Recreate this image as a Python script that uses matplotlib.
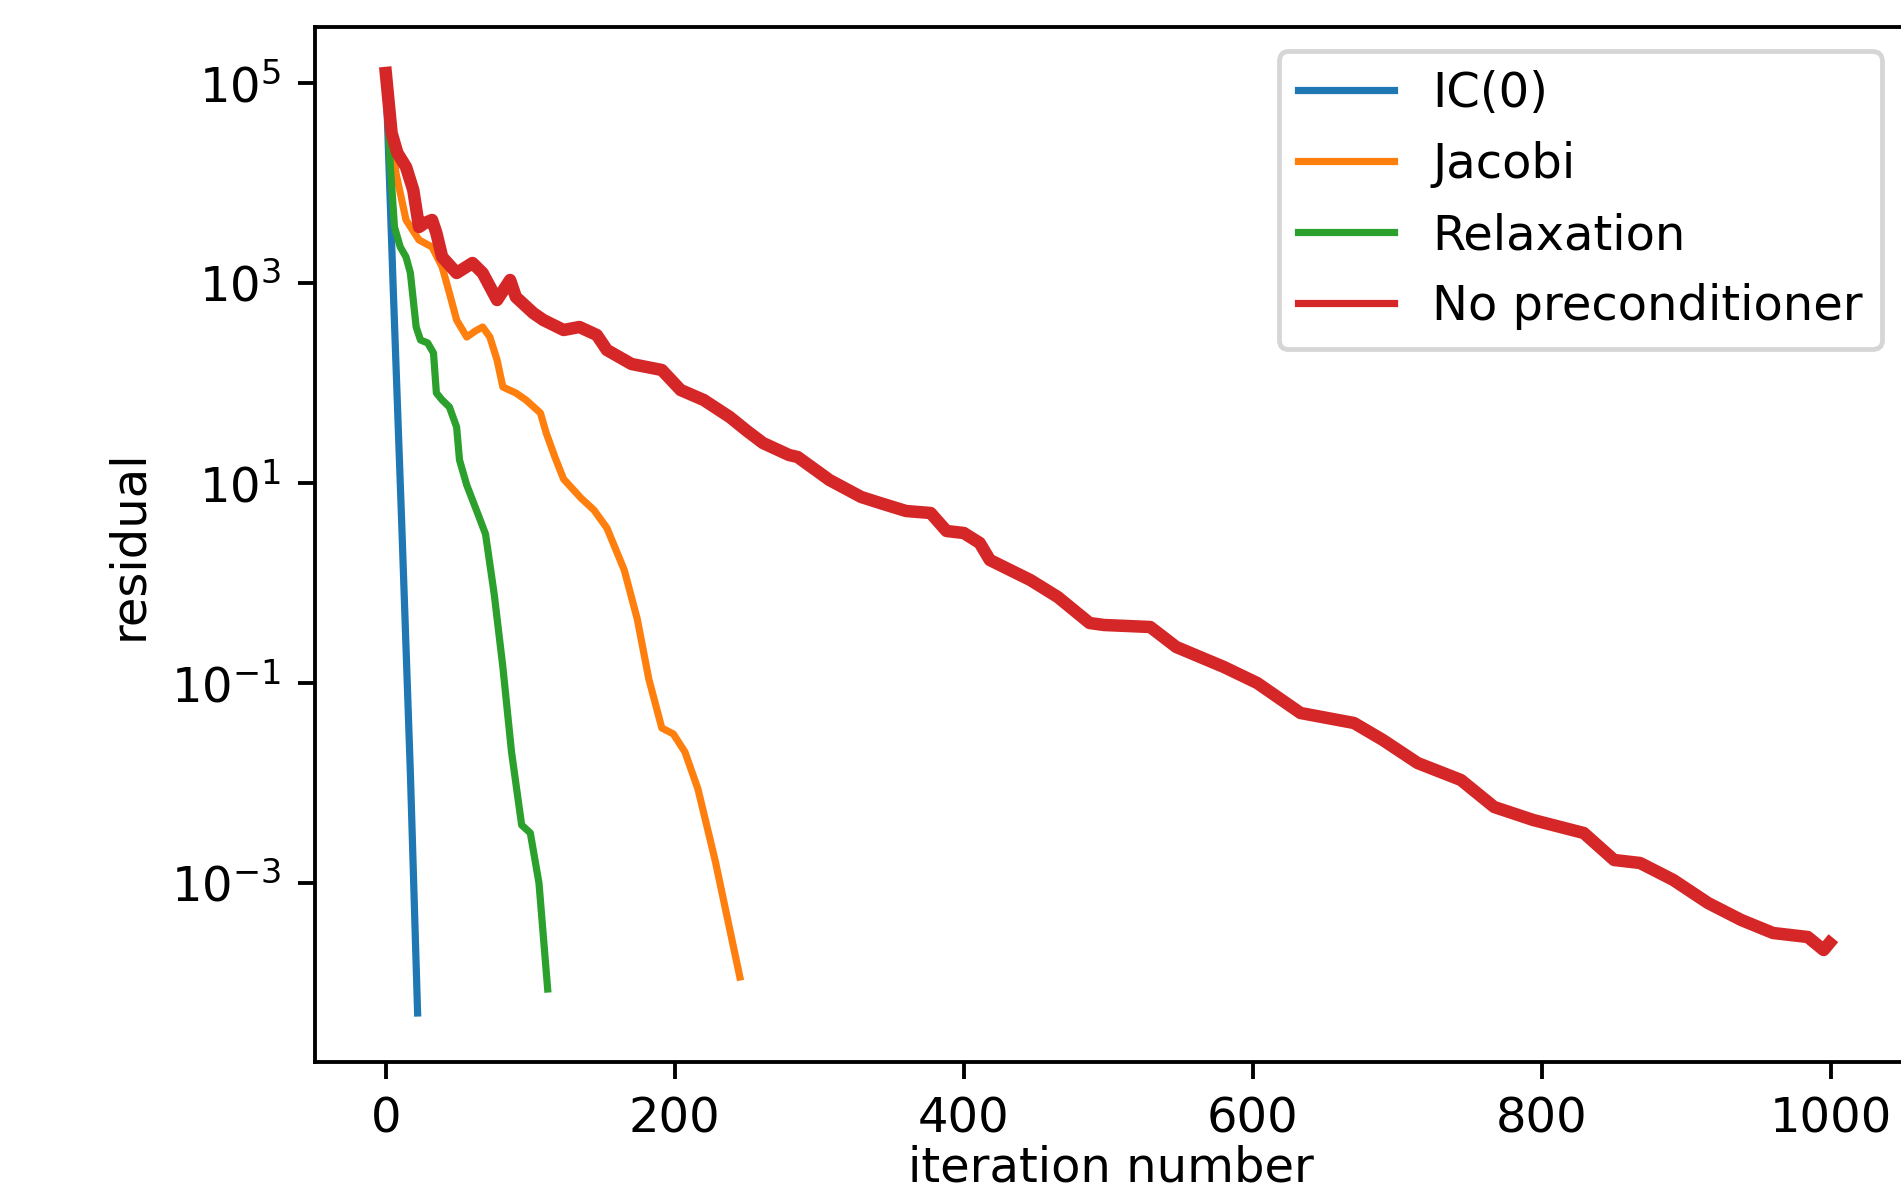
import numpy as np
import matplotlib
matplotlib.use("Agg")
import matplotlib.pyplot as plt

# ===================================== Data (residuals as log10)
ic0_iter = [0, 5, 11, 17, 22]
ic0_log = [5.1, 3.0, 0.6, -1.9, -4.3]

jacobi_iter = [0, 3, 7, 14, 23, 32, 39, 44, 49, 56, 62, 67, 72, 77, 81, 90, 97,
               107, 111, 117, 123, 135, 144, 153, 165, 174, 182, 191, 199, 207,
               216, 228, 245]
jacobi_log = [5.1, 4.6, 4.1, 3.63, 3.43, 3.36, 3.16, 2.9, 2.63, 2.46, 2.52, 2.56,
              2.46, 2.23, 1.96, 1.9, 1.83, 1.7, 1.5, 1.26, 1.04, 0.85, 0.73, 0.55,
              0.13, -0.36, -0.96, -1.45, -1.51, -1.69, -2.06, -2.78, -3.94]

relax_iter = [0, 3, 6, 10, 14, 17, 21, 24, 29, 33, 35, 39, 44, 49, 51, 56, 64,
              69, 75, 81, 87, 94, 100, 106, 112]
relax_log = [5.1, 4.2, 3.56, 3.36, 3.26, 3.1, 2.56, 2.43, 2.4, 2.3, 1.9, 1.83,
             1.76, 1.56, 1.23, 0.98, 0.68, 0.49, -0.11, -0.84, -1.69, -2.42,
             -2.5, -3.0, -4.06]

nopre_iter = [0, 4, 8, 14, 19, 23, 27, 32, 35, 39, 49, 60, 67, 77, 86, 90, 102,
              109, 123, 134, 146, 153, 170, 191, 204, 220, 238, 250, 261, 279,
              285, 307, 329, 342, 360, 377, 388, 400, 411, 418, 446, 465, 487,
              497, 529, 547, 580, 603, 633, 670, 690, 714, 744, 767, 794, 829,
              850, 868, 891, 915, 938, 960, 984, 995, 999]
nopre_log = [5.1, 4.5, 4.3, 4.16, 3.93, 3.56, 3.6, 3.63, 3.5, 3.26, 3.1, 3.2,
             3.1, 2.83, 3.03, 2.86, 2.7, 2.63, 2.53, 2.56, 2.48, 2.33, 2.19,
             2.13, 1.93, 1.83, 1.66, 1.52, 1.4, 1.28, 1.26, 1.03, 0.86, 0.8,
             0.72, 0.7, 0.52, 0.5, 0.4, 0.23, 0.03, -0.14, -0.4, -0.42, -0.44,
             -0.64, -0.84, -1.0, -1.3, -1.4, -1.57, -1.8, -1.97, -2.24, -2.37,
             -2.5, -2.77, -2.8, -2.97, -3.2, -3.37, -3.5, -3.54, -3.67, -3.6]

labels = ["IC(0)", "Jacobi", "Relaxation", "No preconditioner"]

# ===================================== Plot
dpi = 345.6
fig = plt.figure(figsize=(1902 / dpi, 1204 / dpi), dpi=dpi)
ax = fig.add_axes([315 / 1902, 142 / 1204, (1906 - 315) / 1902, (1062 - 27) / 1204])

ax.plot(ic0_iter, 10.0 ** np.array(ic0_log), label=labels[0])
ax.plot(jacobi_iter, 10.0 ** np.array(jacobi_log), label=labels[1])
ax.plot(relax_iter, 10.0 ** np.array(relax_log), label=labels[2])
# the unpreconditioned residual zigzags every step, which reads as a thicker band
ax.plot(nopre_iter, 10.0 ** np.array(nopre_log), label=labels[3], lw=2.6)

ax.set_yscale("log")
ax.set_xlim(-49, 1052)
ax.set_ylim(10 ** -4.79, 10 ** 5.56)
ax.set_yticks([1e-3, 1e-1, 1e1, 1e3, 1e5])
ax.yaxis.set_minor_locator(matplotlib.ticker.NullLocator())
ax.set_xticks([0, 200, 400, 600, 800, 1000])

# reference crops the x label at the bottom; pull it up just enough to fit
ax.set_xlabel("iteration number", labelpad=0.5)
ax.set_ylabel("residual")

leg = ax.legend(loc="upper right")
for line in leg.get_lines():
    line.set_linewidth(1.5)

fig.savefig("out.png", dpi=dpi)
